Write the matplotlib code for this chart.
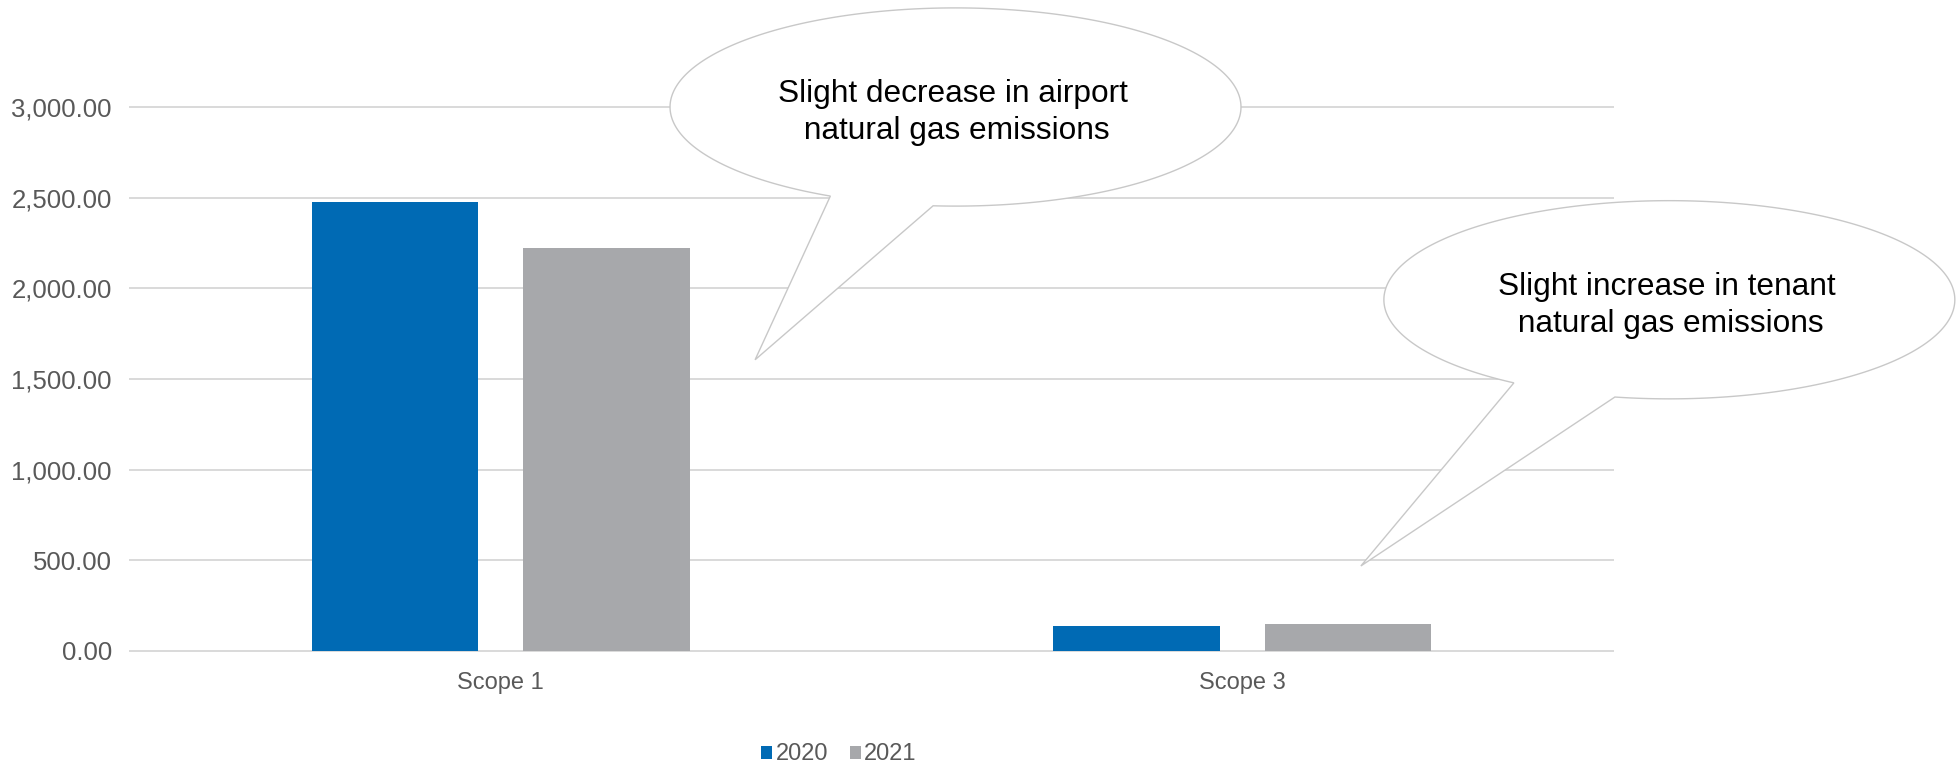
import numpy as np
import matplotlib
matplotlib.use("Agg")
import matplotlib.pyplot as plt
from matplotlib.path import Path
from matplotlib.patches import PathPatch
from matplotlib.ticker import FuncFormatter

plt.rcParams['font.family'] = ['Liberation Sans', 'DejaVu Sans']

# data
categories = ['Scope 1', 'Scope 3']
years = ['2020', '2021']
values_2020 = [2478, 140]
values_2021 = [2224, 151]
yticks = [0, 500, 1000, 1500, 2000, 2500, 3000]
notes = ['Slight decrease in airport\n natural gas emissions',
         'Slight increase in tenant\n natural gas emissions']

blue = '#006AB4'
grey = '#A7A8AB'
txt_grey = '#595959'
grid_grey = '#D9D9D9'

W, H = 1957, 763
fig = plt.figure(figsize=(W / 100, H / 100), dpi=100)
ax = fig.add_axes([130 / W, 112 / H, 1483 / W, 544 / H])

x = np.arange(len(categories))
bw = 0.224
off = 0.1426
b1 = ax.bar(x - off, values_2020, bw, color=blue, label=years[0], zorder=2)
b2 = ax.bar(x + off, values_2021, bw, color=grey, label=years[1], zorder=2)

ax.set_xlim(-0.5, len(categories) - 0.5)
ax.set_ylim(0, 3000)
ax.set_yticks(yticks)
ax.yaxis.set_major_formatter(FuncFormatter(lambda v, p: '{:,.2f}'.format(v)))
ax.set_xticks(x)
ax.set_xticklabels(categories)
ax.tick_params(axis='y', length=0, pad=13, labelsize=18.5, labelcolor=txt_grey)
ax.tick_params(axis='x', length=0, pad=15, labelsize=17, labelcolor=txt_grey)
for s in ax.spines.values():
    s.set_visible(False)
ax.yaxis.grid(True, color=grid_grey, lw=1.4, zorder=0)
ax.set_axisbelow(True)
for gl in ax.get_ygridlines():
    gl.set_clip_on(False)


def bubble(cx, cy, w, h, t_left, t_right, tip, text):
    a, b = w / 2, h / 2
    ts = np.radians(np.linspace(t_right, t_left + 360, 300))
    pts = np.column_stack([cx + a * np.cos(ts), cy + b * np.sin(ts)])
    verts = np.vstack([pts, [tip], pts[:1]])
    codes = [Path.MOVETO] + [Path.LINETO] * (len(verts) - 2) + [Path.CLOSEPOLY]
    patch = PathPatch(Path(verts, codes), facecolor='white', edgecolor='#C8C8C8',
                      lw=1.0, zorder=5, clip_on=False)
    ax.add_patch(patch)
    ax.text(cx - 0.004, cy - 32, text, ha='center', va='center', fontsize=22.8,
            color='black', linespacing=1.3, zorder=6, clip_on=False)


bubble(0.6133, 3000, 0.770, 1093, -116, -94.5, (0.343, 1606), notes[0])
bubble(1.576, 1937, 0.770, 1093, -123, -101, (1.160, 469), notes[1])

fig.legend(handles=[b1, b2], labels=years, loc='center',
           bbox_to_anchor=(839 / W, 8.5 / H), ncol=2, frameon=False,
           fontsize=17, labelcolor=txt_grey, handlelength=0.47, handleheight=0.47,
           handletextpad=0.15, columnspacing=0.9, borderaxespad=0, borderpad=0)

fig.savefig('out.png', dpi=100)
